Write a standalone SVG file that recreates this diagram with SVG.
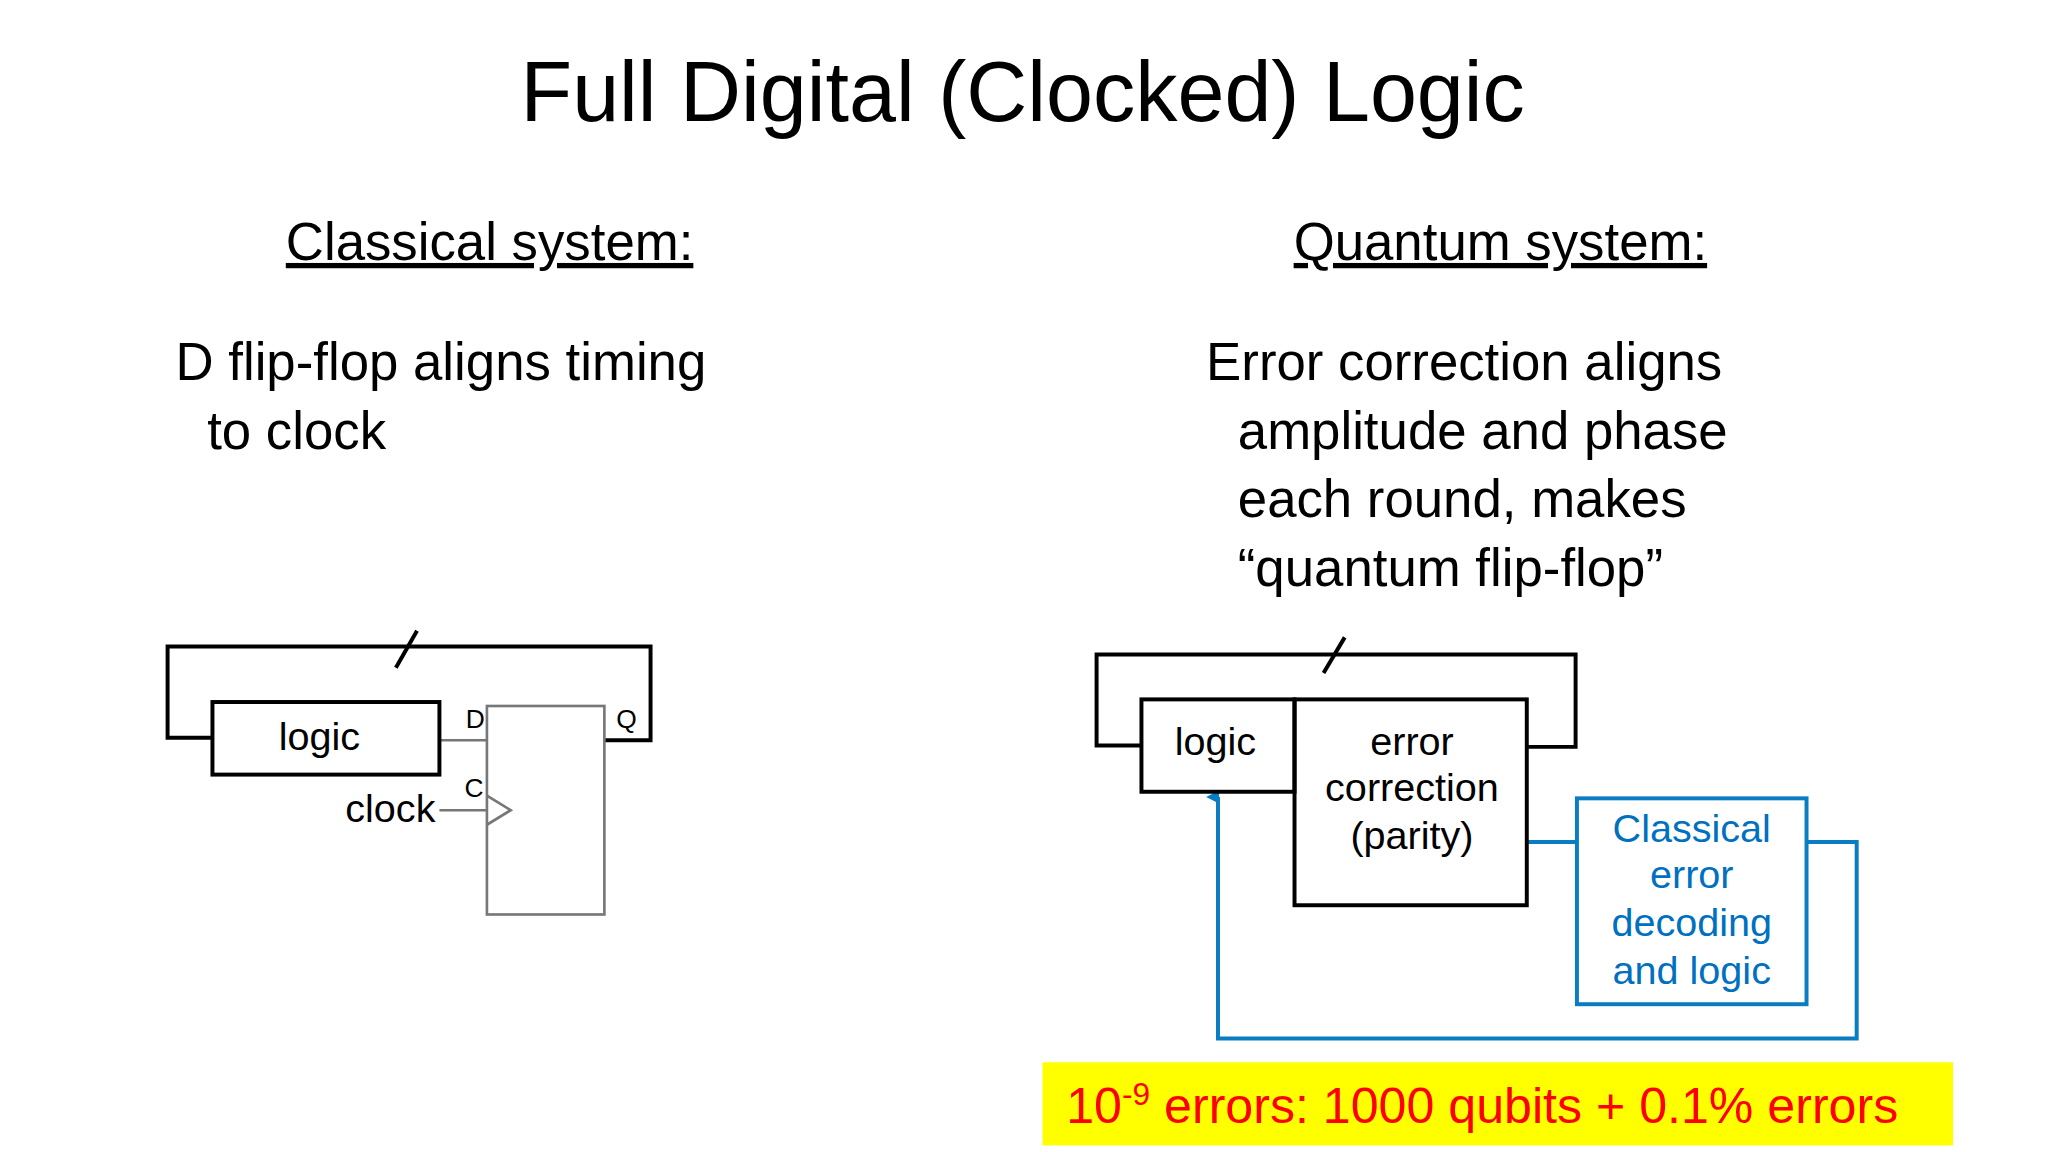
<svg xmlns="http://www.w3.org/2000/svg" width="2048" height="1152" viewBox="0 0 2048 1152">
<style>
text{font-family:"Liberation Sans",Arial,sans-serif;fill:#000}
.h{font-size:40px;text-decoration:underline}
.b{font-size:40px}
.n{font-size:30px;text-anchor:middle}
.bl{fill:#0070c0}
.k{fill:none;stroke:#000;stroke-width:3}
.g{fill:none;stroke:#777;stroke-width:2}
.u{fill:none;stroke:#0a7cc2;stroke-width:3}
</style>
<defs><marker id="ar" markerWidth="10" markerHeight="10" refX="5" refY="9" orient="auto" markerUnits="userSpaceOnUse"><path d="M0,0 L10,0 L5,10 Z" transform="rotate(180 5 5)" fill="#0a7cc2"/></marker></defs>
<rect width="2048" height="1152" fill="#fff"/>
<g transform="scale(1.3196)">
<text x="775" y="92" style="font-size:64px" text-anchor="middle">Full Digital (Clocked) Logic</text>
<text class="h" x="371" y="197" text-anchor="middle">Classical system:</text>
<text class="h" x="1137" y="197" text-anchor="middle">Quantum system:</text>
<text class="b" x="133" y="288">D flip-flop aligns timing</text>
<text class="b" x="157" y="340">to clock</text>
<text class="b" x="914" y="288">Error correction aligns</text>
<text class="b" x="938" y="340">amplitude and phase</text>
<text class="b" x="938" y="392">each round, makes</text>
<text class="b" x="938" y="444">“quantum flip-flop”</text>
<g id="connectors">
<path class="k" d="M161,559 H127 V490 H493 V561 H458"/>
<path class="k" d="M300,506 L316,478"/>
<path class="g" d="M333,561 H369 M333,614 H369"/>
<path class="k" d="M865,565 H831 V496 H1194 V566 H1158"/>
<path class="k" d="M1003,510 L1019,483"/>
<path class="u" d="M1157,638 H1195 M1369,638 H1407 V787 H923 V604" marker-end="url(#ar)"/>
</g>
<g id="logic1"><rect class="k" x="161" y="532" width="172" height="55"/><text class="n" x="242" y="568">logic</text></g>
<g id="dff"><rect class="g" x="369" y="535" width="89" height="158"/><path class="g" d="M369,603 L387,614 L369,625"/>
<text x="353" y="552" style="font-size:20px">D</text><text x="467" y="552" style="font-size:20px">Q</text><text x="352" y="604" style="font-size:20px">C</text>
<text x="330" y="623" style="font-size:30px" text-anchor="end">clock</text></g>
<g id="logic2"><rect class="k" x="865" y="530" width="116" height="70"/><text class="n" x="921" y="572">logic</text></g>
<g id="ec"><rect class="k" x="981" y="530" width="176" height="156"/><text class="n" x="1070" y="572">error</text><text class="n" x="1070" y="607">correction</text><text class="n" x="1070" y="643">(parity)</text></g>
<g id="decoder"><rect class="u" x="1195" y="605" width="174" height="156"/><text class="n bl" x="1282" y="638">Classical</text><text class="n bl" x="1282" y="673">error</text><text class="n bl" x="1282" y="709">decoding</text><text class="n bl" x="1282" y="746">and logic</text></g>
<g id="note"><rect x="790" y="805" width="690" height="63" fill="#ffff00"/><text x="808" y="851" style="font-size:38px;fill:#f00">10<tspan dy="-14" style="font-size:24px">-9</tspan><tspan dy="14"> errors: 1000 qubits + 0.1% errors</tspan></text></g>
</g>
</svg>
